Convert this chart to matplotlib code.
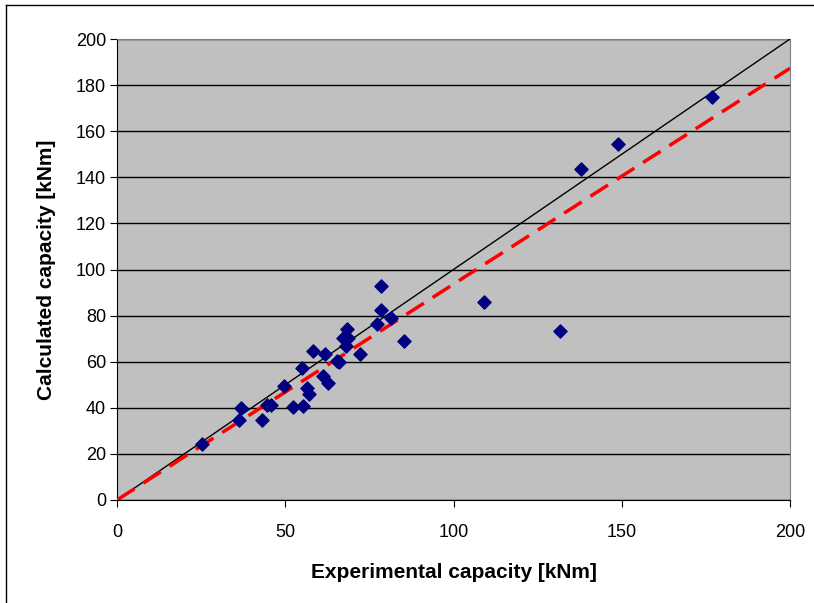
import matplotlib.pyplot as plt
import matplotlib.font_manager as fm
import numpy as np

# experimental vs calculated capacity [kNm]
exp_cap = [25.3, 36.3, 36.8, 43.1, 44.6, 45.8, 49.6, 52.3, 55.0, 55.3, 56.5, 57.1,
           58.2, 61.2, 61.8, 62.7, 65.4, 66.0, 67.2, 68.1, 68.4, 68.6, 72.2, 77.3,
           78.5, 78.5, 81.4, 85.3, 109.2, 131.7, 138.0, 149.0, 176.8]
calc_cap = [24.3, 34.7, 39.9, 34.7, 41.2, 41.2, 49.5, 40.3, 57.3, 40.8, 48.6, 46.0,
            64.6, 53.8, 63.3, 50.8, 60.3, 59.9, 70.3, 66.8, 74.2, 70.3, 63.3, 76.4,
            92.8, 82.4, 78.9, 69.0, 85.9, 73.3, 143.7, 154.4, 174.7]
line_x = [0, 200]
equal_y = [0, 200]
fit_y = [0, 187.3]

names = {f.name for f in fm.fontManager.ttflist}
fam = 'Liberation Sans Narrow' if 'Liberation Sans Narrow' in names else 'Liberation Sans'
plt.rcParams['font.family'] = [fam, 'DejaVu Sans']

fig = plt.figure(figsize=(8.14, 6.03), dpi=100)
# outer chart border (left and top visible only)
fig.add_artist(plt.Line2D([6/814, 6/814], [0, 1 - 5/603], color='black', lw=1))
fig.add_artist(plt.Line2D([6/814, 1], [1 - 5/603, 1 - 5/603], color='black', lw=1))

ax = fig.add_axes([117/814, 103/603, 673/814, 461/603])
ax.set_facecolor('#c0c0c0')
ax.set_xlim(0, 200)
ax.set_ylim(0, 200)
ax.set_xticks(np.arange(0, 201, 50))
ax.set_yticks(np.arange(0, 201, 20))
ax.grid(axis='y', color='black', lw=1)
ax.set_axisbelow(True)

ax.plot(line_x, equal_y, color='black', lw=1, zorder=3)
ax.plot(line_x, fit_y, color='red', lw=2.5, dashes=(6, 3), zorder=3)
ax.scatter(exp_cap, calc_cap, marker='D', s=45, color='#000080', zorder=4, clip_on=False)

for s in ['top', 'right']:
    ax.spines[s].set_color('#808080')
for s in ['left', 'bottom']:
    ax.spines[s].set_color('black')
ax.tick_params(direction='out', length=5, labelsize=13)
ax.tick_params(axis='y', pad=3)
ax.tick_params(axis='x', pad=12)

ax.set_xlabel('Experimental capacity [kNm]', fontsize=15, fontweight='bold', labelpad=16)
ax.set_ylabel('Calculated capacity [kNm]', fontsize=15, fontweight='bold', labelpad=14)

fig.savefig('out.png', dpi=100)
